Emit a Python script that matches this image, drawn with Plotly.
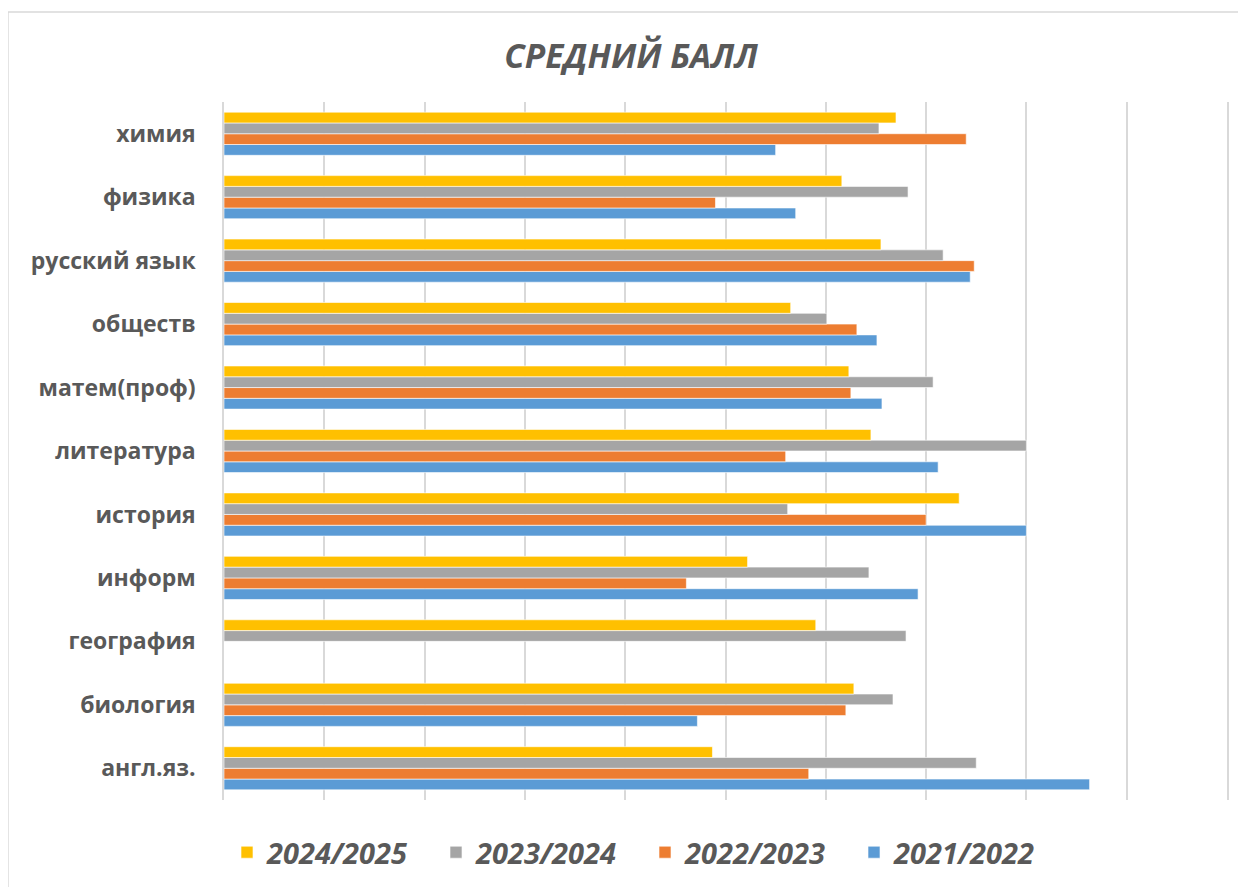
import plotly.graph_objects as go

# categories, bottom to top (as plotly draws them)
subjects = ['англ.яз.', 'биология', 'география', 'информ', 'история', 'литература',
            'матем(проф)', 'обществ', 'русский язык', 'физика', 'химия']

# average scores per school year
y2021 = [86.3, 47.2, None, 69.2, 80.0, 71.2, 65.6, 65.1, 74.4, 57.0, 55.0]
y2022 = [58.3, 62.0, None, 46.1, 70.0, 56.0, 62.5, 63.1, 74.8, 49.0, 74.0]
y2023 = [75.0, 66.7, 68.0, 64.3, 56.2, 80.0, 70.7, 60.1, 71.7, 68.2, 65.3]
y2024 = [48.7, 62.8, 59.0, 52.2, 73.3, 64.5, 62.3, 56.5, 65.5, 61.6, 67.0]

series = [
    ('2021/2022', y2021, '#5B9BD5'),
    ('2022/2023', y2022, '#ED7D31'),
    ('2023/2024', y2023, '#A5A5A5'),
    ('2024/2025', y2024, '#FFC000'),
]

fig = go.Figure()
for name, vals, color in series:
    fig.add_trace(go.Bar(
        y=subjects, x=vals, name='<b><i>' + name + '</i></b>', orientation='h',
        marker=dict(color=color, line=dict(color='white', width=0.6)),
    ))

grey_txt = '#595959'
grid = '#d9d9d9'

# the page adds an 8px body margin, so margins are shifted by 8px
fig.update_layout(
    width=1246, height=887,
    paper_bgcolor='white', plot_bgcolor='white',
    barmode='group', bargap=0.32, bargroupgap=0,
    margin=dict(l=216, r=27, t=94, b=95),
    title=dict(text='<b><i>СРЕДНИЙ БАЛЛ</i></b>', x=0.5, xanchor='center',
               y=0.946, yanchor='middle',
               font=dict(family='Open Sans', size=33.5, color=grey_txt)),
    legend=dict(orientation='h', traceorder='reversed',
                x=0.003, xanchor='left', y=-0.075, yanchor='middle',
                font=dict(family='Open Sans', size=29, color=grey_txt),
                itemwidth=30, entrywidth=164, entrywidthmode='pixels'),
    showlegend=True,
)
fig.update_xaxes(range=[0, 100], dtick=10, showticklabels=False,
                 showgrid=True, gridcolor=grid, gridwidth=1.5,
                 zeroline=False, showline=False)
fig.update_yaxes(showgrid=False, showline=True, mirror=True,
                 linecolor=grid, linewidth=1.5,
                 ticks='', ticklabelstandoff=22,
                 tickfont=dict(family='Open Sans', size=23, color=grey_txt),
                 tickprefix='<b>', ticksuffix='</b>')

# outer chart frame
fig.add_shape(type='rect', xref='paper', yref='paper',
              x0=-0.2154, x1=1.03, y0=-0.14, y1=1.129,
              line=dict(color=grid, width=1.5), fillcolor='rgba(0,0,0,0)')

fig.write_html('out.html')
